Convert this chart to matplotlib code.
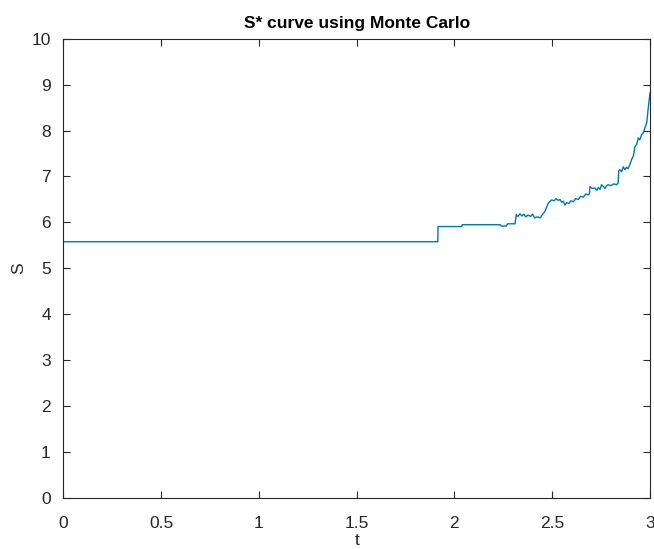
import matplotlib
matplotlib.use("Agg")
import matplotlib.pyplot as plt

# S* curve (t, S)
t = [0.0, 1.915, 1.916, 2.037, 2.040, 2.233, 2.240, 2.265, 2.272, 2.310,
     2.316, 2.325, 2.335, 2.345, 2.355, 2.365, 2.375, 2.390, 2.400, 2.410,
     2.425, 2.440, 2.446, 2.463, 2.480, 2.497, 2.510, 2.520, 2.530, 2.540,
     2.548, 2.557, 2.565, 2.574, 2.585, 2.595, 2.608, 2.620, 2.634, 2.645,
     2.659, 2.672, 2.684, 2.690, 2.693, 2.705, 2.718, 2.728, 2.736, 2.745,
     2.752, 2.762, 2.770, 2.778, 2.786, 2.800, 2.815, 2.829, 2.837, 2.840,
     2.846, 2.855, 2.863, 2.872, 2.880, 2.888, 2.897, 2.906, 2.915, 2.923,
     2.932, 2.940, 2.948, 2.957, 2.966, 2.974, 2.983, 2.990, 2.996, 3.0]
S = [5.58, 5.58, 5.91, 5.91, 5.95, 5.95, 5.92, 5.92, 5.97, 5.97,
     6.17, 6.13, 6.19, 6.14, 6.18, 6.12, 6.16, 6.13, 6.18, 6.10,
     6.12, 6.10, 6.15, 6.24, 6.42, 6.49, 6.47, 6.52, 6.48, 6.50,
     6.44, 6.46, 6.38, 6.43, 6.41, 6.47, 6.45, 6.52, 6.50, 6.57,
     6.55, 6.62, 6.60, 6.62, 6.78, 6.74, 6.75, 6.70, 6.76, 6.72,
     6.82, 6.78, 6.74, 6.80, 6.82, 6.80, 6.84, 6.82, 6.86, 7.12,
     7.15, 7.10, 7.21, 7.15, 7.20, 7.17, 7.26, 7.37, 7.45, 7.65,
     7.70, 7.84, 7.80, 7.91, 7.95, 8.06, 8.16, 8.45, 8.67, 8.82]

xticks = [0, 0.5, 1, 1.5, 2, 2.5, 3]
yticks = list(range(0, 11))

plt.rcParams["font.family"] = ["Liberation Sans", "DejaVu Sans"]
txt = "#262626"

fig = plt.figure(figsize=(6.54, 5.49), dpi=100)
ax = fig.add_axes([63.3 / 654, 51 / 549, (650 - 63.3) / 654, (498.3 - 39) / 549])

ax.plot(t, S, color="#0072BD", lw=1.0)

ax.set_xlim(0, 3)
ax.set_ylim(0, 10)
ax.set_xticks(xticks)
ax.set_xticklabels([f"{v:g}" for v in xticks])
ax.set_yticks(yticks)
ax.tick_params(direction="in", top=True, right=True, length=5, width=0.8,
               colors=txt, labelsize=12.5)
ax.tick_params(axis="x", pad=13)
ax.tick_params(axis="y", pad=9)
for sp in ax.spines.values():
    sp.set_color(txt)
    sp.set_linewidth(0.8)

ax.set_title("S* curve using Monte Carlo", fontsize=12.5, fontweight="bold",
             color="black", pad=8)
ax.set_xlabel("t", fontsize=12.5, color=txt)
ax.set_ylabel("S", fontsize=12.5, color=txt)
ax.xaxis.set_label_coords(0.5, -0.077)
ax.yaxis.set_label_coords(-0.063, 0.5)

fig.savefig("out.png", dpi=100)
